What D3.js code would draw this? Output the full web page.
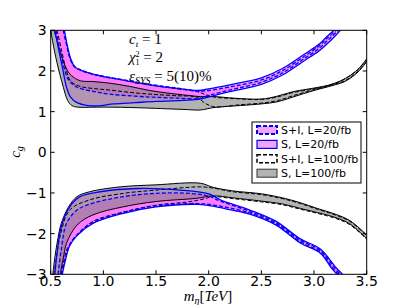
<!DOCTYPE html>
<html>
<head>
<meta charset="utf-8">
<script src="https://cdn.jsdelivr.net/npm/d3@7"></script>
<style>
  body { margin: 0; background: #fff; }
  svg { display: block; }
  .tick-label { font-family: "DejaVu Sans", sans-serif; font-size: 14px; fill: #000; }
  .legend-text { font-family: "DejaVu Sans", sans-serif; font-size: 11px; fill: #000; }
  .math { font-family: "Liberation Serif", "DejaVu Serif", serif; font-size: 15px; fill: #000; }
</style>
</head>
<body>
<div id="chart"></div>
<script>
// axis ticks
const xTicks = [0.5, 1.0, 1.5, 2.0, 2.5, 3.0, 3.5];
const yTicks = [-3, -2, -1, 0, 1, 2, 3];

const legendNames = ["S+I, L=20/fb", "S, L=20/fb", "S+I, L=100/fb", "S, L=100/fb"];

// contours, upper band (c_g > 0): [m_eta, c_g]
const sL100UpOuter = [[0.5,3.0],[0.52,2.7],[0.56,2.2],[0.62,1.6],[0.66,1.28],[0.70,1.15],[0.76,1.11],[0.9,1.11],[1.1,1.11],[1.4,1.09],[1.6,1.07],[1.8,1.05],[1.92,1.04],[2.05,1.10],[2.3,1.15],[2.5,1.19],[2.65,1.24],[2.8,1.36],[3.0,1.52],[3.2,1.66],[3.3,1.75],[3.42,1.98],[3.5,2.23]];
const sL100UpInner = [[0.53,3.0],[0.56,2.75],[0.60,2.4],[0.65,2.05],[0.70,1.88],[0.78,1.76],[0.9,1.74],[1.06,1.70],[1.25,1.62],[1.44,1.52],[1.6,1.46],[1.8,1.40],[1.92,1.37],[2.05,1.37],[2.25,1.33],[2.5,1.31],[2.65,1.38],[2.8,1.49],[3.0,1.58],[3.15,1.66],[3.3,1.82],[3.42,2.05],[3.5,2.3]];
const siL100UpOuter = [[0.56,3.0],[0.6,2.55],[0.64,2.1],[0.69,1.75],[0.78,1.62],[0.9,1.57],[1.06,1.53],[1.3,1.46],[1.5,1.42],[1.7,1.39],[1.88,1.36],[1.97,1.2],[2.05,1.12],[2.3,1.17],[2.5,1.21],[2.65,1.27],[2.8,1.39],[3.0,1.54],[3.2,1.68],[3.3,1.77],[3.42,2.0],[3.5,2.25]];
const siL100UpInner = [[0.62,3.0],[0.655,2.6],[0.685,2.3],[0.725,2.1],[0.8,2.0],[0.9,1.92],[1.0,1.86],[1.2,1.77],[1.44,1.66],[1.7,1.56],[1.88,1.5],[1.97,1.42],[2.05,1.36],[2.25,1.32],[2.5,1.30],[2.65,1.36],[2.8,1.47],[3.0,1.56],[3.2,1.69],[3.32,1.85],[3.42,2.04],[3.5,2.28]];
const sL20UpOuter = [[0.54,3.0],[0.57,2.6],[0.61,2.1],[0.65,1.6],[0.69,1.35],[0.75,1.22],[0.85,1.15],[0.95,1.14],[1.1,1.19],[1.3,1.22],[1.5,1.25],[1.7,1.27],[1.9,1.30],[2.0,1.36],[2.2,1.49],[2.5,1.67],[2.7,1.90],[2.9,2.24],[3.05,2.5],[3.17,2.78],[3.25,3.0]];
const sL20UpInner = [[0.63,3.0],[0.66,2.6],[0.69,2.3],[0.73,2.1],[0.8,2.0],[0.9,1.92],[1.0,1.86],[1.2,1.77],[1.44,1.66],[1.7,1.57],[1.9,1.52],[2.0,1.56],[2.2,1.66],[2.5,1.83],[2.7,2.06],[2.9,2.40],[3.05,2.66],[3.12,2.84],[3.19,3.0]];
const siL20UpOuter = [[0.55,3.0],[0.58,2.6],[0.62,2.15],[0.67,1.78],[0.75,1.6],[0.9,1.5],[1.06,1.43],[1.3,1.38],[1.5,1.35],[1.7,1.33],[1.9,1.32],[2.0,1.40],[2.2,1.53],[2.5,1.72],[2.7,1.95],[2.9,2.29],[3.05,2.56],[3.15,2.8],[3.23,3.0]];
const siL20UpInner = [[0.62,3.0],[0.655,2.6],[0.685,2.3],[0.725,2.11],[0.8,2.01],[0.9,1.93],[1.0,1.87],[1.2,1.78],[1.44,1.67],[1.7,1.58],[1.9,1.50],[2.0,1.52],[2.2,1.61],[2.5,1.78],[2.7,2.01],[2.9,2.35],[3.05,2.62],[3.13,2.82],[3.21,3.0]];

// contours, lower band (c_g < 0)
const sL100LoOuter = [[0.52,-3.0],[0.54,-2.57],[0.57,-2.1],[0.60,-1.75],[0.67,-1.34],[0.75,-1.09],[0.87,-0.97],[1.16,-0.85],[1.5,-0.80],[1.92,-0.76],[2.04,-0.86],[2.23,-0.95],[2.5,-1.02],[2.7,-1.12],[2.87,-1.24],[3.03,-1.38],[3.2,-1.52],[3.34,-1.68],[3.5,-2.03]];
const sL100LoInner = [[0.59,-3.0],[0.62,-2.6],[0.65,-2.24],[0.75,-1.79],[0.9,-1.54],[1.19,-1.34],[1.5,-1.21],[1.89,-1.13],[2.04,-1.07],[2.23,-1.12],[2.5,-1.2],[2.7,-1.27],[2.87,-1.38],[3.03,-1.48],[3.2,-1.6],[3.34,-1.76],[3.5,-2.12]];
const siL100LoOuter = [[0.53,-3.0],[0.56,-2.5],[0.6,-1.95],[0.68,-1.42],[0.87,-1.17],[1.19,-1.01],[1.5,-0.93],[1.92,-0.85],[2.04,-0.88],[2.23,-0.97],[2.5,-1.04],[2.7,-1.14],[2.87,-1.26],[3.03,-1.4],[3.2,-1.54],[3.34,-1.7],[3.5,-2.05]];
const siL100LoInner = [[0.6,-3.0],[0.63,-2.6],[0.66,-2.35],[0.75,-2.03],[0.9,-1.7],[1.19,-1.47],[1.5,-1.3],[1.8,-1.22],[1.95,-1.15],[2.04,-1.09],[2.23,-1.14],[2.5,-1.22],[2.7,-1.29],[2.87,-1.4],[3.03,-1.5],[3.2,-1.62],[3.34,-1.78],[3.5,-2.14]];
const sL20LoOuter = [[0.54,-3.0],[0.556,-2.57],[0.6,-1.83],[0.68,-1.34],[0.78,-1.09],[0.97,-0.97],[1.32,-0.89],[1.73,-0.93],[2.01,-1.03],[2.11,-1.17],[2.39,-1.42],[2.64,-1.70],[2.87,-2.13],[3.06,-2.38],[3.21,-2.84],[3.27,-3.0]];
const sL20LoInner = [[0.61,-3.0],[0.64,-2.65],[0.68,-2.3],[0.75,-2.05],[0.9,-1.75],[1.19,-1.5],[1.5,-1.34],[1.9,-1.28],[2.05,-1.33],[2.2,-1.41],[2.39,-1.52],[2.64,-1.79],[2.87,-2.23],[3.06,-2.48],[3.17,-2.86],[3.22,-3.0]];
const siL20LoOuter = [[0.57,-3.0],[0.6,-2.4],[0.65,-1.75],[0.75,-1.42],[0.9,-1.25],[1.19,-1.09],[1.5,-1.01],[1.82,-1.01],[2.0,-1.08],[2.11,-1.2],[2.39,-1.45],[2.64,-1.73],[2.87,-2.16],[3.06,-2.41],[3.2,-2.86],[3.25,-3.0]];
const siL20LoInner = [[0.60,-3.0],[0.635,-2.65],[0.675,-2.3],[0.75,-2.03],[0.9,-1.73],[1.19,-1.48],[1.5,-1.32],[1.9,-1.26],[2.05,-1.30],[2.2,-1.37],[2.39,-1.49],[2.64,-1.76],[2.87,-2.2],[3.06,-2.45],[3.18,-2.86],[3.235,-3.0]];

function main(){
  const w = 407, h = 305;
  const left = 50.7, right = 366.7, top = 30.3, bottom = 274.3;

  const svg = d3.select("#chart").append("svg")
                .attr("width", w)
                .attr("height", h);

  const x = d3.scaleLinear().domain([0.5, 3.5]).range([left, right]);
  const y = d3.scaleLinear().domain([-3, 3]).range([bottom, top]);

  svg.append("clipPath").attr("id", "plot-clip")
     .append("rect")
     .attr("x", left).attr("y", top)
     .attr("width", right - left).attr("height", bottom - top);

  const line = d3.line()
                 .x(d => x(d[0]))
                 .y(d => y(d[1]))
                 .curve(d3.curveCatmullRom.alpha(0.5));

  // band between two contour edges
  function band(outer, inner){
    const back = line(inner.slice().reverse()).replace(/^M/, "L");
    return line(outer) + back + "Z";
  }

  const plot = svg.append("g").attr("clip-path", "url(#plot-clip)");

  // fills
  const fills = [
    [siL20UpOuter, siL20UpInner, "#ff00ff", 0.3],
    [siL20LoOuter, siL20LoInner, "#ff00ff", 0.3],
    [sL20UpOuter, sL20UpInner, "#ff00ff", 0.3],
    [sL20LoOuter, sL20LoInner, "#ff00ff", 0.3],
    [sL100UpOuter, sL100UpInner, "#808080", 0.6],
    [sL100LoOuter, sL100LoInner, "#808080", 0.6]
  ];
  plot.selectAll("path.fill")
      .data(fills)
      .enter()
      .append("path")
      .attr("class", "fill")
      .attr("d", d => band(d[0], d[1]))
      .attr("fill", d => d[2])
      .attr("fill-opacity", d => d[3])
      .attr("stroke", "none");

  // contour lines
  const strokes = [
    [sL100UpOuter, "#000", 1, null], [sL100UpInner, "#000", 1, null],
    [sL100LoOuter, "#000", 1, null], [sL100LoInner, "#000", 1, null],
    [siL100UpOuter, "#000", 1, "4,2"], [siL100UpInner, "#000", 1, "4,2"],
    [siL100LoOuter, "#000", 1, "4,2"], [siL100LoInner, "#000", 1, "4,2"],
    [sL20UpOuter, "#0000ff", 1.3, null], [sL20UpInner, "#0000ff", 1.3, null],
    [sL20LoOuter, "#0000ff", 1.3, null], [sL20LoInner, "#0000ff", 1.3, null],
    [siL20UpOuter, "#0000ff", 1.3, "4,2"], [siL20UpInner, "#0000ff", 1.3, "4,2"],
    [siL20LoOuter, "#0000ff", 1.3, "4,2"], [siL20LoInner, "#0000ff", 1.3, "4,2"]
  ];
  plot.selectAll("path.contour")
      .data(strokes)
      .enter()
      .append("path")
      .attr("class", "contour")
      .attr("d", d => line(d[0]))
      .attr("fill", "none")
      .attr("stroke", d => d[1])
      .attr("stroke-width", d => d[2])
      .attr("stroke-dasharray", d => d[3]);

  // frame with inward ticks on all sides
  svg.append("rect")
     .attr("x", left).attr("y", top)
     .attr("width", right - left).attr("height", bottom - top)
     .attr("fill", "none").attr("stroke", "#000").attr("stroke-width", 1);

  const tl = 4;
  const ticks = svg.append("g").attr("stroke", "#000").attr("stroke-width", 1);
  xTicks.forEach(t => {
    ticks.append("line").attr("x1", x(t)).attr("x2", x(t)).attr("y1", bottom).attr("y2", bottom - tl);
    ticks.append("line").attr("x1", x(t)).attr("x2", x(t)).attr("y1", top).attr("y2", top + tl);
  });
  yTicks.forEach(t => {
    ticks.append("line").attr("x1", left).attr("x2", left + tl).attr("y1", y(t)).attr("y2", y(t));
    ticks.append("line").attr("x1", right).attr("x2", right - tl).attr("y1", y(t)).attr("y2", y(t));
  });

  svg.selectAll("text.xt")
     .data(xTicks)
     .enter()
     .append("text")
     .attr("class", "tick-label")
     .attr("x", d => x(d))
     .attr("y", 286)
     .attr("text-anchor", "middle")
     .text(d3.format(".1f"));

  svg.selectAll("text.yt")
     .data(yTicks)
     .enter()
     .append("text")
     .attr("class", "tick-label")
     .attr("x", left - 4)
     .attr("y", d => y(d) + 5)
     .attr("text-anchor", "end")
     .text(d => d < 0 ? "\u2212" + Math.abs(d) : d);

  // axis labels
  const xl = svg.append("text").attr("class", "math")
                .attr("x", 208).attr("y", 301).attr("text-anchor", "middle");
  xl.append("tspan").attr("font-style", "italic").text("m");
  xl.append("tspan").attr("font-style", "italic").attr("font-size", "10px").attr("dy", 3).text("\u03b7");
  xl.append("tspan").attr("dy", -3).text("[");
  xl.append("tspan").attr("font-style", "italic").text("TeV");
  xl.append("tspan").text("]");

  const yl = svg.append("text").attr("class", "math")
                .attr("transform", "translate(20,152) rotate(-90)")
                .attr("text-anchor", "middle");
  yl.append("tspan").attr("font-style", "italic").text("c");
  yl.append("tspan").attr("font-style", "italic").attr("font-size", "10px").attr("dy", 3).text("g");

  // annotation
  const a1 = svg.append("text").attr("class", "math").attr("x", 129).attr("y", 44);
  a1.append("tspan").attr("font-style", "italic").text("c");
  a1.append("tspan").attr("font-style", "italic").attr("font-size", "9px").attr("dy", 2.5).text("t");
  a1.append("tspan").attr("dy", -2.5).text(" = 1");

  const a2 = svg.append("text").attr("class", "math").attr("x", 129).attr("y", 62);
  a2.append("tspan").attr("font-style", "italic").text("\u03c7");
  a2.append("tspan").attr("font-size", "8px").attr("dy", -5.5).text("2");
  a2.append("tspan").attr("font-size", "8px").attr("dx", -4).attr("dy", 8.5).text("1");
  a2.append("tspan").attr("dy", -3).text(" = 2");

  const a3 = svg.append("text").attr("class", "math").attr("x", 129).attr("y", 81);
  a3.append("tspan").attr("font-style", "italic").text("\u03b5");
  a3.append("tspan").attr("font-style", "italic").attr("font-size", "10px").attr("dy", 3).text("SYS");
  a3.append("tspan").attr("dy", -3).text(" = 5(10)%");

  // legend
  const lg = svg.append("g");
  lg.append("rect")
    .attr("x", 252).attr("y", 122).attr("width", 109).attr("height", 61)
    .attr("fill", "#fff").attr("stroke", "#000").attr("stroke-width", 1);

  const swatches = [
    ["#f5a3f5", "#0000ff", 2, "4,2"],
    ["#f5a3f5", "#0000ff", 1.2, null],
    ["#fff", "#000", 1.5, "4,2"],
    ["#b3b3b3", "#333", 1, null]
  ];
  const ly = d => 130 + d * 14.4;
  lg.selectAll("rect.sw")
    .data(legendNames)
    .enter()
    .append("rect")
    .attr("class", "sw")
    .attr("x", 257).attr("y", (d, i) => ly(i) - 4)
    .attr("width", 20).attr("height", 8)
    .attr("fill", (d, i) => swatches[i][0])
    .attr("stroke", (d, i) => swatches[i][1])
    .attr("stroke-width", (d, i) => swatches[i][2])
    .attr("stroke-dasharray", (d, i) => swatches[i][3]);

  lg.selectAll("text")
    .data(legendNames)
    .enter()
    .append("text")
    .attr("class", "legend-text")
    .attr("x", 281).attr("y", (d, i) => ly(i) + 4)
    .text(d => d);
}

main();
</script>
</body>
</html>
